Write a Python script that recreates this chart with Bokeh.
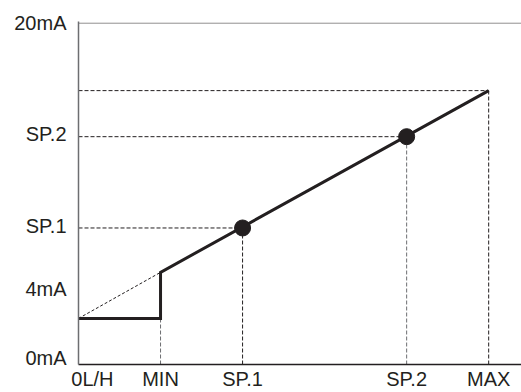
from bokeh.plotting import figure
from bokeh.models import FixedTicker, Range1d
from bokeh.embed import file_html
from bokeh.resources import INLINE

# Horizontal (process value) tick labels and their positions
x_names = ["0L/H", "MIN", "SP.1", "SP.2", "MAX"]
x_points = [0, 20, 40, 80, 100]
x_label_pos = [3.4, 20, 40, 80, 100]

# Vertical (output) tick labels and their positions (mA)
y_names = ["0mA", "4mA", "SP.1", "SP.2", "20mA"]
y_label_pos = [0.4, 4.4, 8.1, 13.5, 20]

# Output values (mA)
out_low = 2.7      # output between 0L/H and MIN
out_min = 5.4      # output at MIN
out_sp1 = 8.0
out_sp2 = 13.35
out_max = 16.05
out_top = 20.0

X_END = 108.0
Y_END = 20.1

INK = "#231f20"
GREY = "#6d6e71"
FONT = "Liberation Sans"

p = figure(width=521, height=392, output_backend="svg", toolbar_location=None,
           x_range=Range1d(0, X_END), y_range=Range1d(0, Y_END),
           min_border_left=78, min_border_right=0, min_border_top=21, min_border_bottom=20)
p.outline_line_color = None
p.xgrid.visible = False
p.ygrid.visible = False
p.background_fill_color = "white"

for ax in (p.xaxis[0], p.yaxis[0]):
    ax.major_tick_line_color = None
    ax.minor_tick_line_color = None
    ax.major_tick_out = 0
    ax.major_tick_in = 0
    ax.minor_tick_out = 0
    ax.minor_tick_in = 0
    ax.major_label_text_font = FONT
    ax.major_label_text_font_size = "20px"
    ax.major_label_text_color = INK

p.xaxis.ticker = FixedTicker(ticks=x_label_pos)
p.xaxis.major_label_overrides = {v: n for v, n in zip(x_label_pos, x_names)}
p.xaxis.axis_line_color = INK
p.xaxis.axis_line_width = 1.5
p.xaxis.major_label_standoff = 3

p.yaxis.ticker = FixedTicker(ticks=y_label_pos)
p.yaxis.major_label_overrides = {v: n for v, n in zip(y_label_pos, y_names)}
p.yaxis.axis_line_color = GREY
p.yaxis.axis_line_width = 1.5
p.yaxis.major_label_standoff = 12

x0, xmin, xsp1, xsp2, xmax = x_points

# 20mA dotted top line
p.segment(x0=[x0], y0=[out_top], x1=[X_END], y1=[out_top],
          line_color=INK, line_width=1, line_dash="1 1")

# dashed guides: horizontal from axis, vertical to axis
p.segment(x0=[x0, x0, x0], y0=[out_sp1, out_sp2, out_max],
          x1=[xsp1, xsp2, xmax], y1=[out_sp1, out_sp2, out_max],
          line_color=INK, line_width=1, line_dash="4 2")
p.segment(x0=[xmin, xsp1, xsp2, xmax], y0=[0, 0, 0, 0],
          x1=[xmin, xsp1, xsp2, xmax], y1=[out_low, out_sp1, out_sp2, out_max],
          line_color=[GREY, INK, GREY, INK], line_width=1, line_dash="4 2")

# dashed extension of the ramp below MIN
p.segment(x0=[x0], y0=[out_low], x1=[xmin], y1=[out_min],
          line_color=INK, line_width=1, line_dash="3 2")

# main output curve
p.line(x=[x0, xmin, xmin, xmax], y=[out_low, out_low, out_min, out_max],
       line_color=INK, line_width=3, line_join="miter")

# set points
p.scatter(x=[xsp1, xsp2], y=[out_sp1, out_sp2], size=16,
          fill_color=INK, line_color=INK)

open("out.html", "w").write(file_html(p, INLINE))
